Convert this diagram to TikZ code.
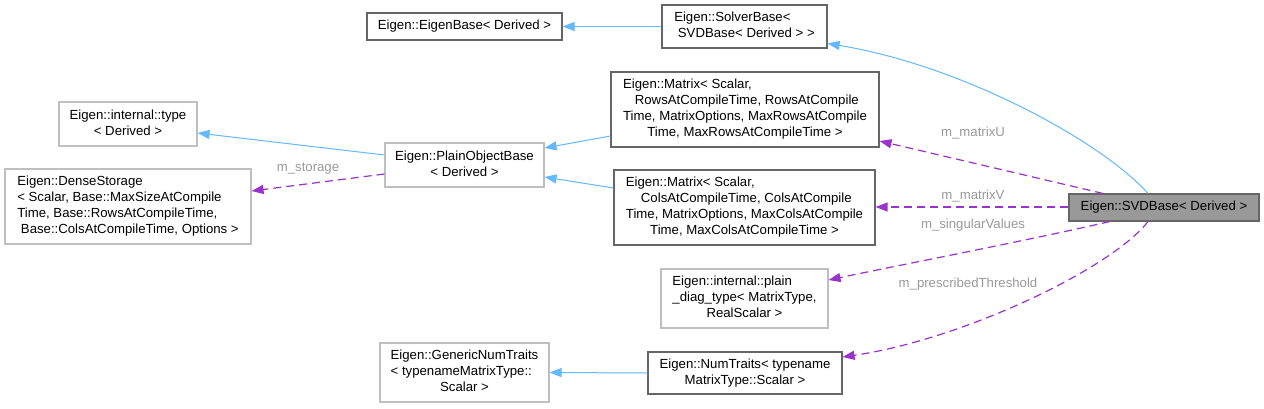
\documentclass[tikz,border=0pt]{standalone}
\usepackage{fontspec}
\setmainfont{Liberation Sans}
\usetikzlibrary{arrows.meta}
\definecolor{edgeblue}{HTML}{63B8FF}
\definecolor{edgepurple}{HTML}{9A32CD}
\definecolor{darkframe}{HTML}{666666}
\definecolor{lightframe}{HTML}{BFBFBF}
\definecolor{labelgray}{HTML}{9A9A9A}
\definecolor{svdfill}{HTML}{999999}
\newcommand{\ctrline}[1]{\multicolumn{1}{@{}c@{}}{#1}}
\begin{document}
\begin{tikzpicture}[x=1pt,y=-1pt,
  basebox/.style={rectangle, line width=1.1pt, fill=white, inner sep=0pt, font=\fontsize{13.2}{16}\selectfont},
  darkbox/.style={basebox, draw=darkframe},
  lightbox/.style={basebox, draw=lightframe},
  svdbox/.style={basebox, draw=darkframe, fill=svdfill},
  inh/.style={draw=edgeblue, line width=1pt, -{Triangle[length=12pt,width=9pt]}},
  usage/.style={draw=edgepurple, line width=1.2pt, dash pattern=on 8pt off 5pt, -{Triangle[length=12pt,width=9pt]}},
  lbl/.style={text=labelgray, inner sep=0pt, font=\fontsize{13.2}{16}\selectfont}
]
\useasboundingbox[fill=white] (0,0) rectangle (1264,408);

% nodes
\node[darkbox, minimum width=195pt, minimum height=27pt] (eigen) at (464.5,26.5) {Eigen::EigenBase< Derived >};
\node[darkbox, minimum width=165pt, minimum height=43pt] (solver) at (744.5,26.5)
  {\begin{tabular}{@{}l@{}}Eigen::SolverBase<\\ \ctrline{\ SVDBase< Derived > >}\end{tabular}};
\node[lightbox, minimum width=138pt, minimum height=44pt] (itype) at (128,124)
  {\begin{tabular}{@{}c@{}}Eigen::internal::type\\ < Derived >\end{tabular}};
\node[lightbox, minimum width=246pt, minimum height=75pt] (dense) at (128,206.5)
  {\begin{tabular}{@{}l@{}}Eigen::DenseStorage\\ < Scalar, Base::MaxSizeAtCompile\\ Time, Base::RowsAtCompileTime,\\ \ Base::ColsAtCompileTime, Options >\end{tabular}};
\node[lightbox, minimum width=159pt, minimum height=44pt] (plain) at (464.5,165)
  {\begin{tabular}{@{}c@{}}Eigen::PlainObjectBase\\ < Derived >\end{tabular}};
\node[darkbox, minimum width=268pt, minimum height=75pt] (matu) at (745,109.5)
  {\begin{tabular}{@{}l@{}}Eigen::Matrix< Scalar,\\ \ctrline{\ RowsAtCompileTime, RowsAtCompile}\\ \ctrline{Time, MatrixOptions, MaxRowsAtCompile}\\ \ctrline{Time, MaxRowsAtCompileTime >}\end{tabular}};
\node[darkbox, minimum width=261pt, minimum height=75pt] (matv) at (744.5,207.5)
  {\begin{tabular}{@{}l@{}}Eigen::Matrix< Scalar,\\ \ctrline{\ ColsAtCompileTime, ColsAtCompile}\\ \ctrline{Time, MatrixOptions, MaxColsAtCompile}\\ \ctrline{Time, MaxColsAtCompileTime >}\end{tabular}};
\node[lightbox, minimum width=167pt, minimum height=59pt] (diag) at (744.5,298.5)
  {\begin{tabular}{@{}l@{}}Eigen::internal::plain\\ \_diag\_type< MatrixType,\\ \ctrline{RealScalar >}\end{tabular}};
\node[darkbox, minimum width=194pt, minimum height=42pt] (numt) at (745,373)
  {\begin{tabular}{@{}c@{}}Eigen::NumTraits< typename\\ MatrixType::Scalar >\end{tabular}};
\node[lightbox, minimum width=169pt, minimum height=59pt] (gen) at (464.5,372.5)
  {\begin{tabular}{@{}l@{}}Eigen::GenericNumTraits\\ < typenameMatrixType::\\ \ctrline{Scalar >}\end{tabular}};
\node[svdbox, minimum width=190pt, minimum height=27pt] (svd) at (1164,207.5) {Eigen::SVDBase< Derived >};

% labels
\node[lbl] (lstorage) at (308,169) {m\_storage};
\node[lbl] (lu) at (973,133) {m\_matrixU};
\node[lbl] (lv) at (973,196) {m\_matrixV};
\node[lbl] (ls) at (973,225) {m\_singularValues};
\node[lbl] (lp) at (968,284) {m\_prescribedThreshold};

% inheritance edges
\draw[inh] (solver.west) -- (eigen.east);
\draw[inh] ([xshift=-16pt]svd.north) .. controls (1100,140) and (960,65) .. ([yshift=-17pt]solver.east);
\draw[inh] ([yshift=10pt]plain.west) -- ([yshift=-9pt]itype.east);
\draw[inh] ([yshift=-26.5pt]matu.west) -- ([yshift=17pt]plain.east);
\draw[inh] ([yshift=19.5pt]matv.west) -- ([yshift=-12pt]plain.east);
\draw[inh] (numt.west) -- (gen.east);

% usage edges
\draw[usage] ([yshift=-9pt]plain.west) -- ([yshift=15.5pt]dense.east);
\draw[usage] ([xshift=-61pt]svd.north) -- ([yshift=-31.5pt]matu.east);
\draw[usage] ([yshift=0.5pt]svd.west) -- ([yshift=0.5pt]matv.east);
\draw[usage] ([xshift=-54pt]svd.south) .. controls (1020,242) and (900,265) .. ([yshift=18.5pt]diag.east);
\draw[usage] ([xshift=-16pt]svd.south) .. controls (1110,270) and (960,340) .. ([yshift=16pt]numt.east);
\end{tikzpicture}
\end{document}
